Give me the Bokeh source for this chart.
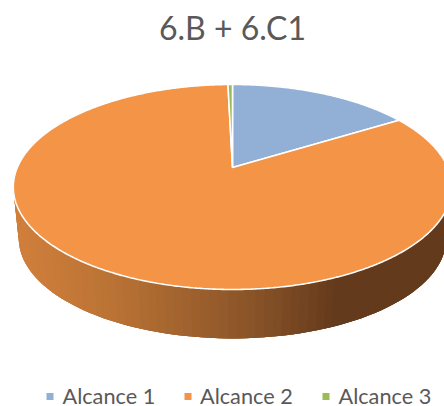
import numpy as np
from bokeh.embed import file_html
from bokeh.models import Range1d
from bokeh.plotting import figure
from bokeh.core.properties import value
from bokeh.resources import INLINE

# Chart content
title_text = "6.B + 6.C1"
categories = ["Alcance 1", "Alcance 2", "Alcance 3"]
shares = [16.2, 83.4, 0.4]
colors = ["#92AFD5", "#F49446", "#9BBB59"]
legend_marker_x = [49.5, 187.5, 325.5]
legend_text_x = [62, 199.5, 338]

# Tilted-disc projection of the pie top (pixel units on the page)
APEX_X, APEX_Y = 232.0, 167.0
AX, BY, PERSP = 215.2, 98.8, 0.19
# Lower rim of the disc wall
WALL_DROP, WALL_SCALE = 52.0, 0.975


def rim(theta):
    """Project clockwise angles (radians from 12 o'clock) onto the top rim."""
    w = 1 + PERSP * np.cos(theta)
    return AX * np.sin(theta) / w, -BY * np.cos(theta) / w


def shade(x):
    """Horizontal shading of the side wall, dark towards the right."""
    stops = [14, 100, 232, 320, 444]
    r = np.interp(x, stops, [210, 186, 138, 100, 100])
    g = np.interp(x, stops, [128, 115, 84, 58, 58])
    b = np.interp(x, stops, [60, 53, 41, 28, 28])
    return f"#{int(r):02x}{int(g):02x}{int(b):02x}"


p = figure(width=444, height=406, output_backend="svg", toolbar_location=None,
           x_range=Range1d(0, 444), y_range=Range1d(406, 0),
           min_border=0, outline_line_color=None, background_fill_color="white")
p.axis.visible = False
p.grid.visible = False

# Side wall: overlapping strips painted from right to left, which hides the seams
edges = np.radians(np.linspace(65, 295, 116))
ux, uy = rim(edges)
top_x, top_y = APEX_X + ux, APEX_Y + uy
low_x, low_y = APEX_X + WALL_SCALE * ux, APEX_Y + WALL_DROP + WALL_SCALE * uy
xs, ys, fills = [], [], []
for i in range(1, len(edges)):
    lead = max(0, i - 3)
    xs.append(np.r_[top_x[lead:i + 1], low_x[lead:i + 1][::-1]])
    ys.append(np.r_[top_y[lead:i + 1], low_y[lead:i + 1][::-1]])
    fills.append(shade((low_x[i - 1] + low_x[i]) / 2))
p.patches(xs, ys, fill_color=fills, line_color=None)

# Pie top: the slices run clockwise from 12 o'clock
start = 0.0
total = sum(shares)
for share, color in zip(shares, colors):
    stop = start + share / total * 2 * np.pi
    theta = np.linspace(start, stop, max(3, int(share * 8)))
    sx, sy = rim(theta)
    p.patch(np.r_[APEX_X, APEX_X + sx], np.r_[APEX_Y, APEX_Y + sy],
            fill_color=color, line_color="white", line_width=1.6)
    start = stop

# Title
p.text([232], [26.5], text=[title_text], text_font=value("Lato"), text_font_size="32px",
       text_color="#595959", text_align="center", text_baseline="middle")

# Legend
p.rect(legend_marker_x, [396] * 3, width=7, height=7, fill_color=colors, line_color=None)
p.text(legend_text_x, [395] * 3, text=categories, text_font=value("Lato"),
       text_font_size="21.7px", text_line_height=0.9, text_color="#595959",
       text_align="left", text_baseline="middle")

open("out.html", "w").write(file_html(p, INLINE))
